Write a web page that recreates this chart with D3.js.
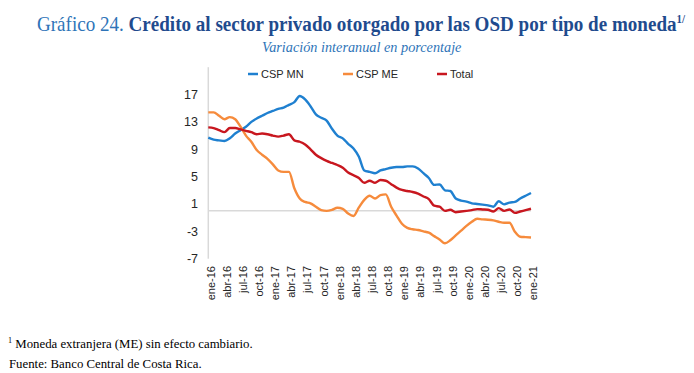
<!DOCTYPE html>
<html>
<head>
<meta charset="utf-8">
<script src="https://cdn.jsdelivr.net/npm/d3@7"></script>
<style>
  body { margin: 0; background: #fff; }
  svg text { font-family: "Liberation Sans", Arial, sans-serif; }
</style>
</head>
<body>
<svg id="chart" width="694" height="373"></svg>
<script>
// months ene-16 .. ene-21
var meses = ["ene","feb","mar","abr","may","jun","jul","ago","set","oct","nov","dic"];
var categories = [];
for (var a = 16; a <= 21; a++) {
  for (var m = 0; m < 12; m++) {
    if (a === 21 && m > 0) break;
    categories.push(meses[m] + "-" + a);
  }
}

var cspMN = [10.7,10.4,10.3,10.2,10.6,11.3,11.8,12.3,13.0,13.5,
             13.9,14.3,14.6,14.9,15.1,15.5,15.9,16.8,16.3,15.3,
             14.1,13.6,13.2,12.0,11.0,10.6,9.8,9.1,7.9,5.9,
             5.7,5.5,5.9,6.1,6.3,6.4,6.4,6.5,6.5,6.2,
             5.5,4.8,3.8,3.85,3.0,2.9,1.8,1.5,1.35,1.1,
             1.0,0.9,0.8,0.6,1.4,0.95,1.2,1.3,1.8,2.2,2.6];
var cspME = [14.4,14.4,13.9,13.4,13.7,13.4,12.3,11.0,10.1,8.9,
             8.2,7.6,6.8,5.9,5.7,5.7,3.3,1.8,1.3,1.1,
             0.6,0.1,0.0,0.15,0.45,0.3,-0.4,-0.75,0.5,1.6,
             2.2,1.8,2.3,2.4,0.6,-0.7,-1.9,-2.5,-2.7,-2.8,
             -3.0,-3.2,-3.7,-4.2,-4.75,-4.3,-3.6,-2.9,-2.2,-1.6,
             -1.15,-1.25,-1.3,-1.4,-1.6,-1.75,-1.75,-3.05,-3.8,-3.85,-3.9];
var total = [12.2,12.1,11.8,11.5,12.1,12.1,11.9,11.7,11.5,11.2,
             11.3,11.2,11.0,10.85,11.0,11.2,10.3,10.1,9.7,9.0,
             8.2,7.7,7.3,7.0,6.7,6.3,5.6,5.2,4.8,4.1,
             4.4,4.1,4.5,4.4,3.9,3.4,3.05,2.9,2.75,2.5,
             2.1,1.7,0.75,0.6,0.0,0.15,-0.2,-0.1,0.0,0.1,
             0.25,0.2,0.15,-0.1,0.4,0.0,0.2,-0.3,-0.1,0.1,0.3];
var yTicks = [-7,-3,1,5,9,13,17];

var series = [
  {name: "CSP MN", values: cspMN, color: "#1f80d0"},
  {name: "CSP ME", values: cspME, color: "#f68b3c"},
  {name: "Total",  values: total, color: "#c8171f"}
];

var svg = d3.select("#chart");

var x = d3.scaleLinear().domain([0, categories.length - 1]).range([208.3, 531]);
var y = d3.scaleLinear().domain([-7, 21]).range([258.7, 67.2]);

// axes lines
svg.append("line")
    .attr("x1", x(0)).attr("x2", x(0))
    .attr("y1", y(21)).attr("y2", y(-7))
    .attr("stroke", "#d9d9d9").attr("stroke-width", 1.5);
svg.append("line")
    .attr("x1", x(0)).attr("x2", x(categories.length - 1))
    .attr("y1", y(0)).attr("y2", y(0))
    .attr("stroke", "#d9d9d9").attr("stroke-width", 1.5);

// y labels
svg.append("g").selectAll("text")
    .data(yTicks)
  .enter().append("text")
    .attr("x", 198)
    .attr("y", function(d) { return y(d); })
    .attr("dy", "0.35em")
    .attr("text-anchor", "end")
    .attr("font-size", 12.5)
    .attr("fill", "#262626")
    .text(function(d) { return d; });

// x labels every 3 months
svg.append("g").selectAll("text")
    .data(categories.filter(function(d, i) { return i % 3 === 0; }))
  .enter().append("text")
    .attr("transform", function(d) {
      return "translate(" + (x(categories.indexOf(d)) + 2.5) + ",266) rotate(-90)";
    })
    .attr("dy", "0.35em")
    .attr("text-anchor", "end")
    .attr("font-size", 11)
    .attr("fill", "#262626")
    .text(function(d) { return d; });

// lines
var line = d3.line()
    .x(function(d, i) { return x(i); })
    .y(function(d) { return y(d); })
    .curve(d3.curveMonotoneX);

svg.selectAll(".serie")
    .data(series)
  .enter().append("path")
    .attr("class", "serie")
    .attr("d", function(d) { return line(d.values); })
    .attr("fill", "none")
    .attr("stroke", function(d) { return d.color; })
    .attr("stroke-width", 2.4)
    .attr("stroke-linejoin", "round");

// legend
var legX = [248, 343, 437];
var leg = svg.selectAll(".leg")
    .data(series)
  .enter().append("g")
    .attr("class", "leg")
    .attr("transform", function(d, i) { return "translate(" + legX[i] + ",74)"; });
leg.append("line")
    .attr("x1", 0).attr("x2", 10)
    .attr("stroke", function(d) { return d.color; })
    .attr("stroke-width", 2.5);
leg.append("text")
    .attr("x", 13)
    .attr("dy", "0.35em")
    .attr("font-size", 11)
    .attr("fill", "#262626")
    .text(function(d) { return d.name; });

// titles
function fitText(sel, x0, base, width) {
  var k = width / sel.node().getBBox().width;
  sel.attr("transform", "translate(" + x0 + "," + base + ") scale(" + k + ",1)");
  return k;
}

var title = svg.append("text")
    .style("font-family", "'Liberation Serif', 'Times New Roman', serif")
    .attr("font-size", 21);
title.append("tspan").attr("fill", "#2e74b8").text("Gráfico 24. ");
title.append("tspan").attr("fill", "#1f4b8e").attr("font-weight", "bold")
    .text("Crédito al sector privado otorgado por las OSD por tipo de moneda");
title.append("tspan").attr("fill", "#1f4b8e").attr("font-weight", "bold")
    .attr("font-size", 12).attr("dy", -8).text("1/");
fitText(title, 37, 31, 649);

var sub = svg.append("text")
    .style("font-family", "'Liberation Serif', 'Times New Roman', serif")
    .attr("font-size", 15)
    .attr("font-style", "italic")
    .attr("fill", "#2e74b8")
    .text("Variación interanual en porcentaje");
fitText(sub, 262, 52, 200);

var nota = svg.append("text")
    .style("font-family", "'Liberation Serif', 'Times New Roman', serif")
    .attr("font-size", 12.5)
    .attr("fill", "#000");
nota.append("tspan").attr("font-size", 8).attr("dy", -5).text("1");
nota.append("tspan").attr("dy", 5).text(" Moneda extranjera (ME) sin efecto cambiario.");
var kn = fitText(nota, 8, 348, 245);

svg.append("text")
    .style("font-family", "'Liberation Serif', 'Times New Roman', serif")
    .attr("font-size", 12.5)
    .attr("fill", "#000")
    .attr("transform", "translate(9,368) scale(" + kn + ",1)")
    .text("Fuente: Banco Central de Costa Rica.");
</script>
</body>
</html>
